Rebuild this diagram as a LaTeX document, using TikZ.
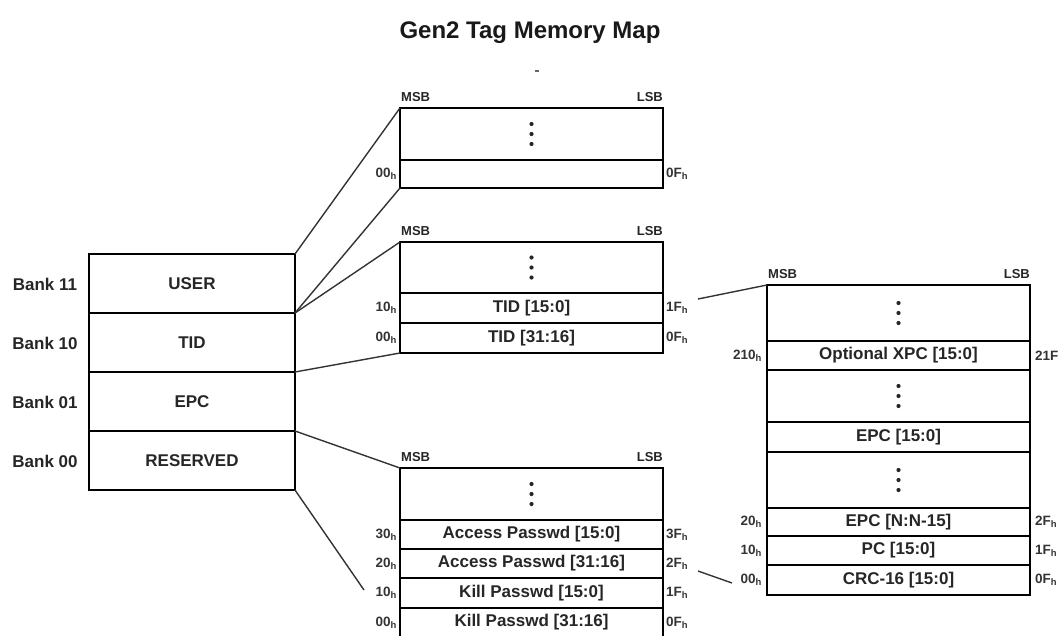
\documentclass[tikz,border=0pt]{standalone}
\usepackage{fontspec}
\setmainfont{Liberation Sans}
\newcommand\hx[1]{#1\textsubscript{h}}
\begin{document}
\begin{tikzpicture}[x=1pt,y=-1pt,
  row/.style={draw=black, line width=2.6pt, minimum width=263pt, inner sep=0pt, outer sep=0pt,
    font=\fontsize{17}{20}\selectfont\bfseries, text=black!85},
  bank/.style={draw=black, line width=2.6pt, minimum width=206pt, minimum height=59pt, inner sep=0pt, outer sep=0pt,
    font=\fontsize{17}{20}\selectfont\bfseries, text=black!85},
  banklbl/.style={font=\fontsize{17}{20}\selectfont\bfseries, text=black!85, inner sep=0pt},
  addr/.style={font=\fontsize{13.5}{15}\selectfont\bfseries, text=black!80, inner sep=0pt},
  msb/.style={font=\fontsize{13}{15}\selectfont\bfseries, text=black!85, inner sep=0pt},
  conn/.style={draw=black!80, line width=1.4pt},
  dot/.style={fill=black!85}
]
\useasboundingbox (0,0) rectangle (1059,635);
% title
\node[font=\fontsize{24}{28}\selectfont\bfseries, text=black!90] (title) at (530,33) {Gen2 Tag Memory Map};
\draw[black!60, line width=1.3pt] (535,71) -- (539,71);

% bank box
\node[bank] (b1) at (192,283.5) {USER};
\node[bank] (b2) at (192,342.5) {TID};
\node[bank] (b3) at (192,401.5) {EPC};
\node[bank] (b4) at (192,460.5) {RESERVED};
\node[banklbl] (l1) at (45,284) {Bank 11};
\node[banklbl] (l2) at (45,343) {Bank 10};
\node[banklbl] (l3) at (45,402) {Bank 01};
\node[banklbl] (l4) at (45,461) {Bank 00};

% user box
\node[row, minimum height=52pt] (u1) at (531.5,134) {};
\node[row, minimum height=28pt] (u2) at (531.5,174) {};
% TID box
\node[row, minimum height=51pt] (t1) at (531.5,267.5) {};
\node[row, minimum height=30pt] (t2) at (531.5,308) {TID [15:0]};
\node[row, minimum height=30pt] (t3) at (531.5,338) {TID [31:16]};
% reserved box
\node[row, minimum height=52pt] (r1) at (531.5,494) {};
\node[row, minimum height=29pt] (r2) at (531.5,534.5) {Access Passwd [15:0]};
\node[row, minimum height=29pt] (r3) at (531.5,563.5) {Access Passwd [31:16]};
\node[row, minimum height=30pt] (r4) at (531.5,593) {Kill Passwd [15:0]};
\node[row, minimum height=29pt] (r5) at (531.5,622.5) {Kill Passwd [31:16]};
% EPC box
\node[row, minimum height=56pt] (e1) at (898.5,313) {};
\node[row, minimum height=29pt] (e2) at (898.5,355.5) {Optional XPC [15:0]};
\node[row, minimum height=52pt] (e3) at (898.5,396) {};
\node[row, minimum height=30pt] (e4) at (898.5,437) {EPC [15:0]};
\node[row, minimum height=56pt] (e5) at (898.5,480) {};
\node[row, minimum height=28pt] (e6) at (898.5,522) {EPC [N:N-15]};
\node[row, minimum height=29pt] (e7) at (898.5,550.5) {PC [15:0]};
\node[row, minimum height=30pt] (e8) at (898.5,580) {CRC-16 [15:0]};

% vertical dots
\foreach \n in {u1,t1,r1,e1,e3,e5} {
  \fill[dot] ([yshift=-10pt]\n.center) circle (2.1pt);
  \fill[dot] (\n.center) circle (2.1pt);
  \fill[dot] ([yshift=10pt]\n.center) circle (2.1pt);
}

% MSB / LSB
\foreach \n in {u1,t1,r1,e1} {
  \node[msb, anchor=base west] at ([xshift=1pt,yshift=7pt]\n.north west) {MSB};
  \node[msb, anchor=base east] at ([yshift=7pt]\n.north east) {LSB};
}

% addresses
\node[addr, anchor=east] (u2a) at ([xshift=-3pt]u2.west) {\hx{00}};
\node[addr, anchor=west] (u2b) at ([xshift=3pt]u2.east) {\hx{0F}};
\node[addr, anchor=east] (t2a) at ([xshift=-3pt]t2.west) {\hx{10}};
\node[addr, anchor=west] (t2b) at ([xshift=3pt]t2.east) {\hx{1F}};
\node[addr, anchor=east] (t3a) at ([xshift=-3pt]t3.west) {\hx{00}};
\node[addr, anchor=west] (t3b) at ([xshift=3pt]t3.east) {\hx{0F}};
\node[addr, anchor=east] (r2a) at ([xshift=-3pt]r2.west) {\hx{30}};
\node[addr, anchor=west] (r2b) at ([xshift=3pt]r2.east) {\hx{3F}};
\node[addr, anchor=east] (r3a) at ([xshift=-3pt]r3.west) {\hx{20}};
\node[addr, anchor=west] (r3b) at ([xshift=3pt]r3.east) {\hx{2F}};
\node[addr, anchor=east] (r4a) at ([xshift=-3pt]r4.west) {\hx{10}};
\node[addr, anchor=west] (r4b) at ([xshift=3pt]r4.east) {\hx{1F}};
\node[addr, anchor=east] (r5a) at ([xshift=-3pt]r5.west) {\hx{00}};
\node[addr, anchor=west] (r5b) at ([xshift=3pt]r5.east) {\hx{0F}};
\node[addr, anchor=east] (e2a) at ([xshift=-5pt]e2.west) {\hx{210}};
\node[addr, anchor=west] (e2b) at ([xshift=5pt]e2.east) {21F};
\node[addr, anchor=east] (e6a) at ([xshift=-5pt]e6.west) {\hx{20}};
\node[addr, anchor=west] (e6b) at ([xshift=5pt]e6.east) {\hx{2F}};
\node[addr, anchor=east] (e7a) at ([xshift=-5pt]e7.west) {\hx{10}};
\node[addr, anchor=west] (e7b) at ([xshift=5pt]e7.east) {\hx{1F}};
\node[addr, anchor=east] (e8a) at ([xshift=-5pt]e8.west) {\hx{00}};
\node[addr, anchor=west] (e8b) at ([xshift=5pt]e8.east) {\hx{0F}};

% connectors
\coordinate (k1) at (364,590);
\coordinate (k2) at (698,299);
\coordinate (k3) at (698,571);
\coordinate (k4) at (732,583);
\draw[conn] (b1.north east) -- (u1.north west);
\draw[conn] (b1.south east) -- (u2.south west);
\draw[conn] (b1.south east) -- (t1.north west);
\draw[conn] (b2.south east) -- (t3.south west);
\draw[conn] (b3.south east) -- (r1.north west);
\draw[conn] (b4.south east) -- (k1);
\draw[conn] (k2) -- (e1.north west);
\draw[conn] (k3) -- (k4);
\end{tikzpicture}
\end{document}
